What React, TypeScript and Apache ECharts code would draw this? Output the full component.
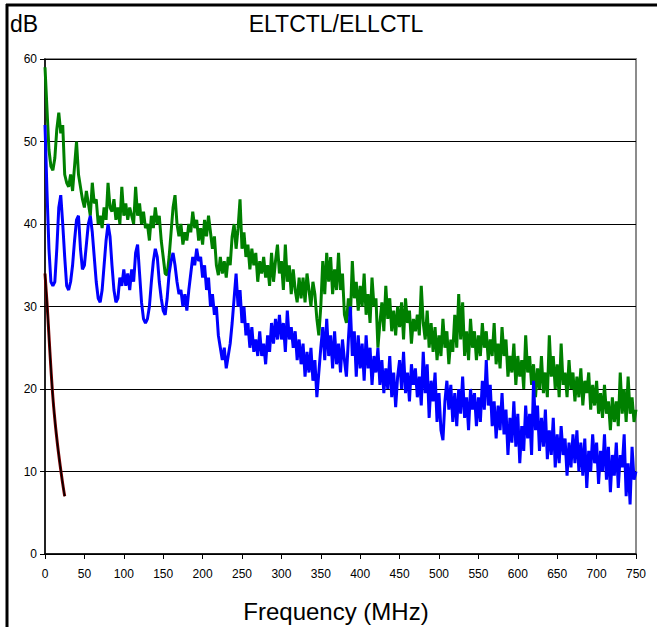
import React, { useEffect, useRef } from "react";
import * as echarts from "echarts";

const FREQ_STEP = 2.5; // MHz between samples
const xTicks = [0, 750, 50];
const yTicks = [0, 60, 10];

const greenValues = [
  59, 54, 49, 47, 46.5, 48, 51.5, 53.5, 51, 52,
  46, 45, 44.5, 46, 44, 47, 50, 46, 44.5, 43,
  42, 44, 42.5, 41, 45, 42.5, 43, 40, 41, 39.5,
  42, 40.5, 45, 42, 41.5, 43, 40.5, 42, 40, 44.5,
  41, 42.5, 40.5, 42, 41, 40, 44.5, 41, 42.5, 40,
  41.5, 39.5, 40, 38, 41, 39.5, 42, 40, 41, 38,
  36, 34, 33.8, 36, 39, 42, 43.5, 40, 38.5, 40,
  37.5, 39, 38, 40, 39, 41.5, 39.5, 40.5, 38, 39.5,
  37.5, 40.5, 38.5, 41, 39, 37, 38.5, 35, 33.8, 36,
  34, 35.5, 33.5, 36, 35, 38.5, 40, 37, 39.5, 43,
  37, 39, 36, 37.5, 34.5, 37, 35, 36.5, 33, 35.5,
  34, 36, 33.5, 35, 32.5, 36.5, 33, 35.5, 37.5, 34,
  35.5, 32, 37.5, 33, 35, 31.5, 34.5, 32, 30.5, 33.5,
  31, 33.5, 30.5, 34, 32, 30, 33, 31.5, 28.5, 26.5,
  30, 35.5, 31.5, 36.5, 33, 36, 31.5, 34.5, 32, 36.5,
  32, 34, 29, 28, 31, 28.5, 35.5, 31, 33, 29.5,
  32.5, 30, 34, 29, 31.5, 28, 33.5, 30, 31, 25,
  28, 30.5, 27, 32.5, 28.5, 31, 27, 29.5, 26.5, 30,
  27.5, 30.5, 26, 31, 28, 29.5, 25.5, 28.5, 27, 29,
  26.5, 32.5, 28, 26, 29.5, 25, 28, 24.5, 27.5, 23.5,
  26.5, 24, 28.5, 25, 27, 23, 26, 24.5, 29, 25,
  31.5, 26, 30.5, 24, 27, 23.5, 28.5, 25, 27, 23.5,
  26.5, 24, 28, 25, 27, 23.5, 26, 24, 28, 23,
  25.5, 22.5, 27.5, 24, 26, 21.5, 24, 22, 25.5, 20.5,
  24, 21.5, 23.5, 20, 26.5, 22, 24, 20.5, 23, 19,
  22.5, 20, 24, 19.5, 22, 19, 26.5, 21.5, 24, 20,
  23, 19, 25.5, 20.5, 22, 19, 23.5, 20, 22, 18.5,
  21.5, 19, 22.5, 18, 21, 19.5, 22, 17.5, 20.5, 18,
  21, 17, 19.5, 16.5, 20.5, 17, 18.5, 15, 19, 16,
  18.5, 15.5, 22, 17, 20, 16, 21.5, 17, 19, 16,
  17.5,
];

const blueValues = [
  52, 44, 37, 33, 32.5, 33, 37, 42, 43.5, 40,
  36, 32.5, 32, 33, 35, 38, 40.5, 41, 37, 34.5,
  35, 37.5, 40, 41, 39, 36, 33, 31, 30.5, 32,
  35, 38, 40, 38.5, 35, 32, 30.5, 31, 33.5, 32.5,
  34.5, 32.5, 34, 32, 34.5, 33, 36.5, 37.5, 34, 30.5,
  28.5, 28, 28.5, 30, 33, 35.5, 37, 36, 33, 31,
  29.5, 29, 31, 34, 35.5, 36.5, 35, 33, 31.5, 32,
  30, 31.5, 29.5, 32, 34, 36, 35, 37, 35.5, 36,
  33.5, 35, 32, 33.5, 30, 31.5, 29, 30, 26.5, 25,
  23.5, 25, 22.5, 24, 25.5, 28, 31, 34, 30, 32,
  28, 30, 26.5, 28, 25, 27.5, 24.5, 26, 24, 27,
  24, 25.5, 23, 26.5, 24.5, 28, 25.5, 28.5, 26, 29,
  26, 28, 24.5, 29.5, 26, 27.5, 25, 27, 23.5, 26,
  23, 25.5, 21.5, 24.5, 22, 25, 21, 23.5, 19, 22,
  25, 27.5, 23.5, 28.5, 24, 26.5, 22.5, 27, 23, 25.5,
  22, 26, 23.5, 21.5, 26, 30, 24, 27, 21.5, 26.5,
  22.5, 25.5, 21, 26.5, 22.5, 25, 20.5, 24, 22, 25,
  20.5, 23.5, 19.5, 22.5, 20, 24, 19, 22, 17.8, 21.5,
  23.5, 20, 24.5, 19.5, 22, 18.5, 23, 20.5, 22.5, 19,
  21.5, 18, 24.5, 19.5, 23, 16.5, 21, 18.5, 22, 16,
  19.5, 15, 13.8, 18.5, 21, 17.5, 20.5, 16, 19.5, 15.5,
  20, 17, 21.5, 16.5, 19, 15, 20, 17.5, 19.5, 15.5,
  19, 16, 21, 17.5, 23.5, 18, 20.5, 15.5, 18.5, 14,
  18, 15, 19.5, 14.5, 17.5, 12, 16.5, 13.5, 18.5, 13,
  17, 11, 15.5, 12.5, 18, 14, 17, 12, 21, 15,
  18, 12.5, 16.5, 13, 17.5, 11.5, 15, 12, 16.5, 10.5,
  14.5, 11, 15.5, 12, 14, 9.5, 13.5, 10.5, 14.5, 11,
  15, 10, 13.5, 9.5, 14, 8, 12.5, 10, 14.5, 11,
  13.5, 8.5, 12.5, 10, 14.5, 9, 13, 7.5, 12, 9.5,
  13.5, 8, 12, 10.5, 14.5, 7, 11, 6, 13, 9,
  10,
];

const blackValues = [34, 30.5, 26.5, 22.5, 19, 16.3, 14, 12, 10.2, 8.5, 7];

const toPairs = (vals: number[]) => vals.map((v, i) => [i * FREQ_STEP, v]);

const FONT = "'Liberation Sans', Arial, sans-serif";

export default function App() {
  const ref = useRef<HTMLDivElement>(null);
  useEffect(() => {
    document.body.style.margin = "0";
    const chart = echarts.init(ref.current!, null, { renderer: "svg" });
    chart.setOption({
      animation: false,
      backgroundColor: "#ffffff",
      textStyle: { fontFamily: FONT },
      grid: {
        left: 45,
        top: 59,
        right: 21,
        bottom: 73,
        show: true,
        borderColor: "#8c8c8c",
        borderWidth: 2,
        outerBoundsMode: "none",
        containLabel: false,
      },
      xAxis: {
        type: "value",
        min: xTicks[0],
        max: xTicks[1],
        interval: xTicks[2],
        axisLine: { show: true, onZero: false, lineStyle: { color: "#000", width: 1.5 } },
        axisTick: { show: true, length: 5, lineStyle: { color: "#000" } },
        axisLabel: { color: "#000", fontSize: 12, fontFamily: FONT, margin: 14 },
        splitLine: { show: false },
      },
      yAxis: {
        type: "value",
        min: yTicks[0],
        max: yTicks[1],
        interval: yTicks[2],
        axisLine: { show: true, lineStyle: { color: "#000", width: 1.5 } },
        axisTick: { show: true, length: 5, lineStyle: { color: "#000" } },
        axisLabel: { color: "#000", fontSize: 12, fontFamily: FONT, margin: 8 },
        splitLine: { show: true, lineStyle: { color: "#000", width: 1 } },
      },
      series: [
        {
          type: "line",
          data: toPairs(greenValues),
          showSymbol: false,
          lineStyle: { color: "#008000", width: 3 },
          itemStyle: { color: "#008000" },
        },
        {
          type: "line",
          data: toPairs(blueValues),
          showSymbol: false,
          lineStyle: { color: "#0000ff", width: 3 },
          itemStyle: { color: "#0000ff" },
        },
        {
          type: "line",
          data: toPairs(blackValues),
          showSymbol: false,
          smooth: true,
          lineStyle: { color: "#800000", width: 3 },
          itemStyle: { color: "#800000" },
        },
        {
          type: "line",
          data: toPairs(blackValues),
          showSymbol: false,
          smooth: true,
          lineStyle: { color: "#000000", width: 1.5 },
          itemStyle: { color: "#000000" },
        },
      ],
      graphic: [
        { type: "line", shape: { x1: 7, y1: 4, x2: 7, y2: 627 }, style: { stroke: "#000", lineWidth: 3 } },
        { type: "line", shape: { x1: 6, y1: 5, x2: 657, y2: 5 }, style: { stroke: "#000", lineWidth: 3 } },
        {
          type: "text",
          left: 10,
          top: 12,
          style: { text: "dB", fontSize: 23, fill: "#000", fontFamily: FONT },
        },
        {
          type: "text",
          x: 336,
          y: 24,
          style: {
            text: "ELTCTL/ELLCTL",
            fontSize: 23,
            fill: "#000",
            fontFamily: FONT,
            align: "center",
            verticalAlign: "middle",
          },
        },
        {
          type: "text",
          x: 336,
          y: 611,
          style: {
            text: "Frequency (MHz)",
            fontSize: 24,
            fill: "#000",
            fontFamily: FONT,
            align: "center",
            verticalAlign: "middle",
          },
        },
      ],
    });
    return () => chart.dispose();
  }, []);
  return <div ref={ref} style={{ width: 657, height: 627 }} />;
}
